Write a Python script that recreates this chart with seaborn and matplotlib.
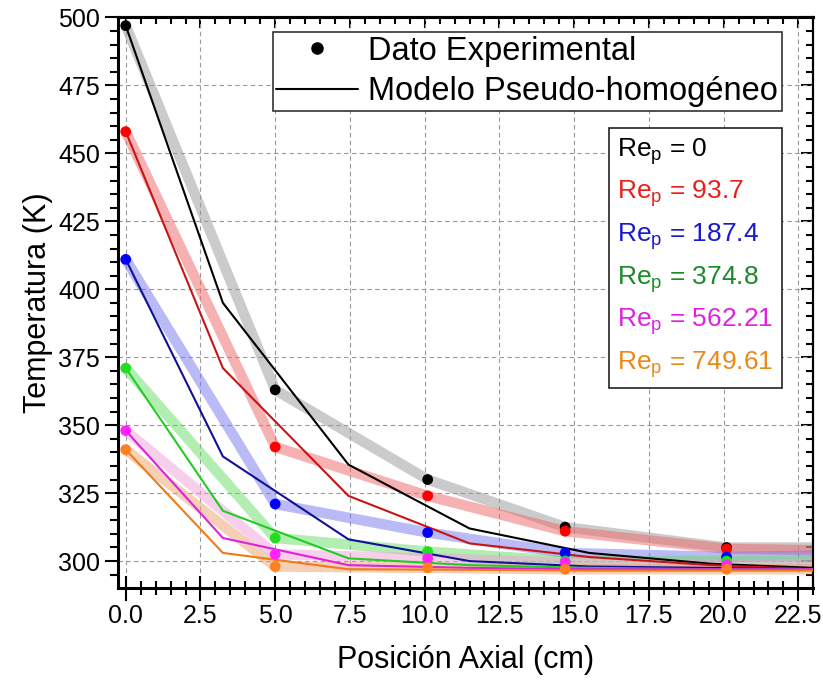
import numpy as np
import pandas as pd
import matplotlib
matplotlib.use("Agg")
import matplotlib.pyplot as plt
import seaborn as sns
from matplotlib.lines import Line2D
from matplotlib.ticker import MultipleLocator

# ---------------- data ----------------
series = ["Re$_{\\rm p}$ = 0", "Re$_{\\rm p}$ = 93.7", "Re$_{\\rm p}$ = 187.4",
          "Re$_{\\rm p}$ = 374.8", "Re$_{\\rm p}$ = 562.21", "Re$_{\\rm p}$ = 749.61"]

exp_x = [0.0, 5.0, 10.1, 14.7, 20.1]
exp_T_0 = [497, 363, 330, 312.5, 305]
exp_T_93 = [458, 342, 324, 311, 304.5]
exp_T_187 = [411, 321, 310.5, 303, 301.5]
exp_T_374 = [371, 308.5, 303.5, 300, 300]
exp_T_562 = [348, 302.5, 301, 299.5, 298.5]
exp_T_749 = [341, 298, 297.5, 297, 297]

band_end_x = 23.0
band_end_T = [305, 304, 302, 300, 299, 297]

model_x = [0.0, 3.25, 7.45, 11.5, 15.5, 19.6, 23.0]
model_T_0 = [497, 395, 335.5, 312, 303, 299, 297.5]
model_T_93 = [458, 371, 324, 306.5, 301.5, 298.5, 297]
model_T_187 = [411, 338.5, 308, 300, 298, 297.5, 297]
model_T_374 = [371, 318.5, 301, 298.5, 297.5, 297, 297]
model_T_562 = [348, 308.5, 298.5, 297.5, 297, 297, 297]
model_T_749 = [341, 303, 297, 296.8, 296.5, 296.5, 296.5]

exp_all = [exp_T_0, exp_T_93, exp_T_187, exp_T_374, exp_T_562, exp_T_749]
model_all = [model_T_0, model_T_93, model_T_187, model_T_374, model_T_562, model_T_749]

dot_colors = ['#000000', '#ff0000', '#0000ff', '#22dd22', '#ff22ff', '#ff8020']
line_colors = ['#000000', '#c81414', '#10109a', '#22cc22', '#dd22dd', '#ee7a1a']
band_colors = ['#999999', '#ee6666', '#7777ee', '#66dd66', '#f0a0d8', '#eea070']
text_colors = ['#000000', '#e8201a', '#1a1acc', '#1a8a2a', '#e020e0', '#e88a1a']

# ---------------- frames ----------------
exp_df = pd.DataFrame([(x, t, s) for s, ts in zip(series, exp_all) for x, t in zip(exp_x, ts)],
                      columns=["x", "T", "serie"])
band_df = pd.DataFrame([(x, t, s) for s, ts, te in zip(series, exp_all, band_end_T)
                        for x, t in zip(exp_x + [band_end_x], ts + [te])],
                       columns=["x", "T", "serie"])
model_df = pd.DataFrame([(x, t, s) for s, ts in zip(series, model_all) for x, t in zip(model_x, ts)],
                        columns=["x", "T", "serie"])

# ---------------- style ----------------
sns.set_style("white")
plt.rcParams['font.family'] = ['Liberation Sans', 'DejaVu Sans']
plt.rcParams['mathtext.fontset'] = 'custom'
plt.rcParams['mathtext.rm'] = 'Liberation Sans'
plt.rcParams['mathtext.it'] = 'Liberation Sans:italic'
plt.rcParams['text.color'] = 'black'
plt.rcParams['axes.labelcolor'] = 'black'
plt.rcParams['xtick.color'] = 'black'
plt.rcParams['ytick.color'] = 'black'

fig = plt.figure(figsize=(8.23, 6.83), dpi=100)
ax = fig.add_axes([0.1437, 0.1395, 0.8445, 0.8349])

sns.lineplot(data=band_df, x="x", y="T", hue="serie", palette=dict(zip(series, band_colors)),
             linewidth=7.5, alpha=0.5, legend=False, sort=False, estimator=None, ax=ax,
             solid_capstyle='butt', zorder=1)
sns.lineplot(data=model_df, x="x", y="T", hue="serie", palette=dict(zip(series, line_colors)),
             linewidth=1.5, legend=False, sort=False, estimator=None, ax=ax, zorder=3)
sns.scatterplot(data=exp_df, x="x", y="T", hue="serie", palette=dict(zip(series, dot_colors)),
                s=60, edgecolor='none', legend=False, ax=ax, zorder=4)

ax.set_xlim(-0.25, 23.0)
ax.set_ylim(290.2, 500)
ax.xaxis.set_major_locator(MultipleLocator(2.5))
ax.xaxis.set_minor_locator(MultipleLocator(0.5))
ax.yaxis.set_major_locator(MultipleLocator(25))
ax.yaxis.set_minor_locator(MultipleLocator(5))
ax.set_xticks(ax.get_xticks())
ax.set_xticklabels([f"{v:.1f}" for v in ax.get_xticks()])
ax.set_xlim(-0.25, 23.0)
ax.grid(True, which='major', linestyle=(0, (4, 3)), color='#999999', linewidth=0.8)
ax.set_axisbelow(True)

ax.tick_params(axis='x', which='major', bottom=True, direction='inout', length=18, width=1.5,
               labelsize=18, pad=3, colors='black')
ax.tick_params(axis='x', which='minor', bottom=True, direction='inout', length=9.5, width=1.5)
ax.tick_params(axis='y', which='major', left=True, direction='out', length=9.5, width=1.5,
               labelsize=18, colors='black')
ax.tick_params(axis='y', which='minor', left=True, direction='out', length=6, width=1.5)

for side in ['left', 'bottom', 'top']:
    ax.spines[side].set_linewidth(2.2)
    ax.spines[side].set_color('black')
ax.spines['right'].set_linewidth(1.5)
ax.spines['right'].set_color('black')

secx = ax.secondary_xaxis('top')
secx.xaxis.set_major_locator(MultipleLocator(2.5))
secx.xaxis.set_minor_locator(MultipleLocator(0.5))
secx.tick_params(which='major', top=True, direction='in', length=8, width=1.5, labeltop=False)
secx.tick_params(which='minor', top=True, direction='in', length=5, width=1.5)
secx.spines['top'].set_linewidth(2.2)
secy = ax.secondary_yaxis('right')
secy.yaxis.set_major_locator(MultipleLocator(25))
secy.yaxis.set_minor_locator(MultipleLocator(5))
secy.tick_params(which='major', right=True, direction='in', length=9, width=1.5, labelright=False)
secy.tick_params(which='minor', right=True, direction='in', length=5, width=1.5)
secy.spines['right'].set_linewidth(1.5)

ax.set_xlabel("Posición Axial (cm)", fontsize=22, labelpad=12, color='black')
ax.set_ylabel("Temperatura (K)", fontsize=22, labelpad=4, color='black')

h1 = [Line2D([], [], marker='o', color='black', linestyle='none', markersize=8),
      Line2D([], [], color='black', linewidth=1.5)]
leg1 = ax.legend(h1, ["Dato Experimental", "Modelo Pseudo-homogéneo"], loc='upper right',
                 bbox_to_anchor=(0.9545, 0.975), fontsize=23.5, frameon=True, fancybox=False,
                 framealpha=1, edgecolor='#333333', borderpad=0.12, labelspacing=0.3,
                 handlelength=2.5, handletextpad=0.3, borderaxespad=0, labelcolor='black')
leg1.get_frame().set_linewidth(1.2)
ax.add_artist(leg1)

h2 = [Line2D([], [], linestyle='none') for _ in series]
leg2 = ax.legend(h2, series, loc='upper right', bbox_to_anchor=(0.9545, 0.8057),
                 fontsize=19, frameon=True, fancybox=False, framealpha=1, edgecolor='#222222',
                 handlelength=0, handletextpad=0, borderpad=0.3, labelspacing=0.45,
                 labelcolor=text_colors, borderaxespad=0)
leg2.get_frame().set_linewidth(1.2)

fig.savefig("out.png", dpi=100)
